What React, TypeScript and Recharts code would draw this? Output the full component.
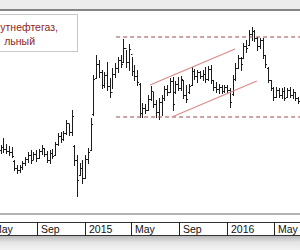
import React from 'react';
import { ComposedChart, Bar, XAxis, YAxis, ReferenceLine } from 'recharts';

// days counted from 2014-09-01; first weekly bar is the week of 2014-05-31
const firstWeekDay = -93;

const opens = [
  26.4, 26.7, 26.5, 26.3, 26.2, 25.3, 24.6, 24.4, 24.7, 25.1,
  25.5, 25.9, 25.4, 26.0, 25.6, 26.3, 26.6, 26.0, 25.4, 26.1,
  25.9, 27.0, 27.8, 27.5, 28.1, 29.1, 28.2, 26.8, 25.4, 23.9,
  24.6, 23.6, 25.5, 26.4, 30.0, 33.6, 35.0, 34.2, 32.9, 33.9,
  32.8, 32.2, 34.0, 34.6, 35.4, 35.2, 36.6, 35.2, 36.0, 34.3,
  33.8, 33.0, 30.1, 30.6, 30.4, 31.5, 32.3, 31.0, 30.2, 31.2,
  31.6, 32.5, 32.2, 33.3, 32.2, 33.0, 32.6, 33.4, 31.9, 32.2,
  32.9, 34.3, 33.8, 34.2, 33.8, 34.0, 33.5, 34.5, 33.4, 32.7,
  32.5, 32.7, 32.3, 32.7, 32.4, 32.0, 33.5, 34.6, 35.6, 35.6,
  36.8, 36.9, 38.0, 38.3, 37.6, 36.8, 37.4, 35.9, 34.6, 33.4,
  32.6, 31.7, 32.4, 31.9, 32.3, 31.7, 32.4, 31.9, 32.2, 31.6,
];
const highs = [
  26.9, 27.6, 27.0, 26.8, 26.7, 25.4, 24.9, 24.9, 25.3, 25.7,
  26.2, 26.4, 26.2, 26.4, 26.5, 26.9, 26.6, 26.3, 26.4, 26.5,
  27.2, 28.1, 28.2, 28.3, 29.4, 29.0, 30.4, 26.9, 25.9, 25.1,
  25.4, 25.9, 26.6, 29.6, 33.9, 35.9, 35.4, 34.4, 34.2, 35.2,
  33.6, 34.6, 35.1, 35.7, 35.9, 37.5, 36.4, 37.0, 35.7, 34.9,
  34.4, 33.1, 31.1, 31.0, 31.9, 32.8, 32.2, 31.4, 31.6, 31.9,
  32.8, 32.9, 33.6, 33.7, 33.3, 33.7, 33.8, 33.4, 32.9, 33.0,
  34.7, 34.5, 34.4, 34.3, 34.4, 34.7, 34.8, 34.9, 33.4, 33.2,
  33.0, 32.9, 32.9, 32.9, 32.6, 33.9, 35.1, 35.9, 35.7, 37.1,
  37.4, 38.4, 38.7, 38.4, 37.7, 37.6, 37.6, 35.9, 34.7, 33.4,
  32.7, 32.7, 32.6, 32.6, 32.7, 32.6, 32.7, 32.5, 32.2, 31.7,
];
const lows = [
  26.1, 26.2, 26.1, 25.9, 25.7, 24.4, 24.1, 24.2, 24.5, 24.9,
  25.2, 25.1, 25.5, 25.3, 25.6, 26.0, 25.8, 25.2, 25.1, 25.6,
  25.9, 26.9, 27.2, 27.4, 28.0, 27.9, 27.9, 24.9, 21.8, 23.9,
  23.1, 23.6, 25.1, 26.4, 29.9, 33.6, 33.7, 32.6, 32.7, 32.4,
  31.7, 32.6, 33.7, 34.2, 34.7, 35.2, 34.7, 34.4, 33.9, 33.4,
  32.9, 29.7, 29.7, 30.1, 30.4, 31.4, 30.7, 29.7, 29.5, 29.9,
  31.4, 31.9, 32.2, 30.4, 32.1, 32.4, 32.4, 31.6, 31.2, 32.1,
  32.9, 33.5, 33.2, 33.6, 33.4, 33.2, 33.4, 33.1, 32.4, 32.2,
  32.1, 32.1, 32.2, 32.1, 30.7, 31.9, 33.4, 34.6, 34.4, 35.6,
  36.2, 36.9, 37.4, 37.3, 36.4, 36.6, 35.6, 34.7, 33.2, 32.4,
  31.4, 31.7, 31.7, 31.6, 31.4, 31.7, 31.7, 31.6, 31.4, 31.1,
];
const closes = [
  26.7, 26.5, 26.3, 26.2, 25.8, 24.6, 24.4, 24.7, 25.1, 25.5,
  25.9, 25.4, 26.0, 25.6, 26.3, 26.6, 26.0, 25.4, 26.1, 25.8,
  27.0, 27.8, 27.5, 28.1, 29.1, 28.2, 29.8, 25.4, 23.4, 24.6,
  23.6, 25.5, 26.2, 29.0, 33.5, 35.0, 34.2, 32.9, 33.9, 32.8,
  32.2, 34.0, 34.6, 35.4, 35.0, 36.6, 35.2, 36.5, 34.3, 33.8,
  33.2, 30.1, 30.6, 30.4, 31.5, 32.3, 31.0, 30.2, 31.2, 31.6,
  32.5, 32.2, 33.3, 31.0, 33.0, 32.6, 33.5, 31.9, 31.5, 32.8,
  34.3, 33.8, 34.2, 33.8, 34.0, 33.5, 34.5, 33.4, 32.7, 32.5,
  32.7, 32.3, 32.7, 32.4, 31.2, 33.5, 34.6, 35.6, 35.0, 36.8,
  36.6, 38.0, 38.3, 37.6, 36.8, 37.4, 35.9, 35.0, 33.4, 32.6,
  31.7, 32.4, 31.9, 32.3, 31.6, 32.4, 31.9, 32.2, 31.6, 31.3,
];

const tickDays = [-123, 0, 122, 242, 365, 487, 608];
const tickLabels = ['May', 'Sep', '2015', 'May', 'Sep', '2016', 'May'];

const resistanceLevel = 37.7;
const supportLevel = 29.7;
const levelStartDay = 203;
const channelUpper = [
  { day: 290, price: 32.9 },
  { day: 508, price: 36.5 },
];
const channelLower = [
  { day: 346, price: 29.7 },
  { day: 564, price: 33.3 },
];

const legendLines = ['утнефтегаз,', 'льный'];

const xDomain: [number, number] = [-94.9, 674.7];
const yDomain: [number, number] = [20, 40.3];

const data = highs.map((h, i) => ({
  day: firstWeekDay + 7 * i,
  open: opens[i],
  high: h,
  low: lows[i],
  close: closes[i],
}));

const FONT = '"Liberation Sans", Arial, sans-serif';

const OhlcShape = (props: any) => {
  const { x, y, width, height, payload } = props;
  if (x == null || y == null || !payload) return null;
  const cx = Math.round(x + width / 2) + 0.5;
  const top = Math.min(y, y + height);
  const bot = Math.max(y, y + height);
  const range = payload.high - payload.low || 1;
  const py = (v: number) => top + ((payload.high - v) / range) * (bot - top);
  const oy = Math.round(py(payload.open)) + 0.5;
  const cy = Math.round(py(payload.close)) + 0.5;
  return (
    <g stroke="#1c1c1c" strokeWidth={1}>
      <line x1={cx} x2={cx} y1={Math.round(top)} y2={Math.round(bot) + 1} />
      <line x1={cx - 1.5} x2={cx} y1={oy} y2={oy} />
      <line x1={cx} x2={cx + 1.5} y1={cy} y2={cy} />
    </g>
  );
};

const AxisTick = (props: any) => {
  const { x, payload } = props;
  const idx = tickDays.indexOf(payload.value);
  const px = Math.round(x) + 0.5;
  return (
    <g>
      <line x1={px} x2={px} y1={222} y2={236} stroke="#222" />
      <text x={px + 3.5} y={233} fontFamily={FONT} fontSize={10.5} fill="#111">
        {idx >= 0 ? tickLabels[idx] : ''}
      </text>
    </g>
  );
};

export default function App() {
  return (
    <div
      style={{
        position: 'absolute',
        left: 0,
        top: 0,
        width: 300,
        height: 250,
        overflow: 'hidden',
        background: '#ffffff',
      }}
    >
      <div
        style={{
          position: 'absolute',
          left: 0,
          top: 0,
          width: 300,
          height: 9,
          background: '#ededed',
          borderBottom: '2px solid #858585',
        }}
      />
      <div
        style={{
          position: 'absolute',
          left: 0,
          top: 222,
          width: 300,
          height: 12,
          borderTop: '1px solid #333',
          borderBottom: '1px solid #333',
        }}
      />
      <div
        style={{
          position: 'absolute',
          left: 0,
          top: 236,
          width: 300,
          height: 14,
          background: 'linear-gradient(#b9b9b9, #e4e4e4 45%, #f2f2f2)',
        }}
      />
      <div style={{ position: 'absolute', left: 0, top: 0 }}>
        <ComposedChart
          width={300}
          height={250}
          data={data}
          margin={{ top: 11, right: 0, bottom: 14, left: 0 }}
        >
          <XAxis
            dataKey="day"
            type="number"
            domain={xDomain}
            allowDataOverflow
            ticks={tickDays}
            interval={0}
            height={22}
            tickLine={false}
            axisLine={{ stroke: '#666', strokeWidth: 1 }}
            tick={<AxisTick />}
          />
          <YAxis hide type="number" domain={yDomain} allowDataOverflow />
          <ReferenceLine
            segment={[
              { x: levelStartDay, y: resistanceLevel },
              { x: xDomain[1], y: resistanceLevel },
            ]}
            stroke="#9a4a4a"
            strokeDasharray="4 3"
            ifOverflow="hidden"
          />
          <ReferenceLine
            segment={[
              { x: levelStartDay, y: supportLevel },
              { x: xDomain[1], y: supportLevel },
            ]}
            stroke="#9a4a4a"
            strokeDasharray="4 3"
            ifOverflow="hidden"
          />
          <ReferenceLine
            segment={[
              { x: channelUpper[0].day, y: channelUpper[0].price },
              { x: channelUpper[1].day, y: channelUpper[1].price },
            ]}
            stroke="#d98a8a"
            strokeWidth={1.2}
            ifOverflow="hidden"
          />
          <ReferenceLine
            segment={[
              { x: channelLower[0].day, y: channelLower[0].price },
              { x: channelLower[1].day, y: channelLower[1].price },
            ]}
            stroke="#d98a8a"
            strokeWidth={1.2}
            ifOverflow="hidden"
          />
          <Bar
            dataKey={(d: any) => [d.low, d.high]}
            barSize={3}
            shape={<OhlcShape />}
            isAnimationActive={false}
          />
        </ComposedChart>
      </div>
      <div
        style={{
          position: 'absolute',
          left: -2,
          top: 14,
          width: 78,
          height: 36,
          border: '1px solid #c8c8c8',
          background: '#ffffff',
        }}
      />
      <div
        style={{
          position: 'absolute',
          right: 300 - 58,
          top: 20,
          fontFamily: FONT,
          fontSize: 10.5,
          lineHeight: '14px',
          color: '#8e2424',
          whiteSpace: 'nowrap',
        }}
      >
        {legendLines[0]}
      </div>
      <div
        style={{
          position: 'absolute',
          right: 300 - 35,
          top: 34,
          fontFamily: FONT,
          fontSize: 10.5,
          lineHeight: '14px',
          color: '#8e2424',
          whiteSpace: 'nowrap',
        }}
      >
        {legendLines[1]}
      </div>
    </div>
  );
}
